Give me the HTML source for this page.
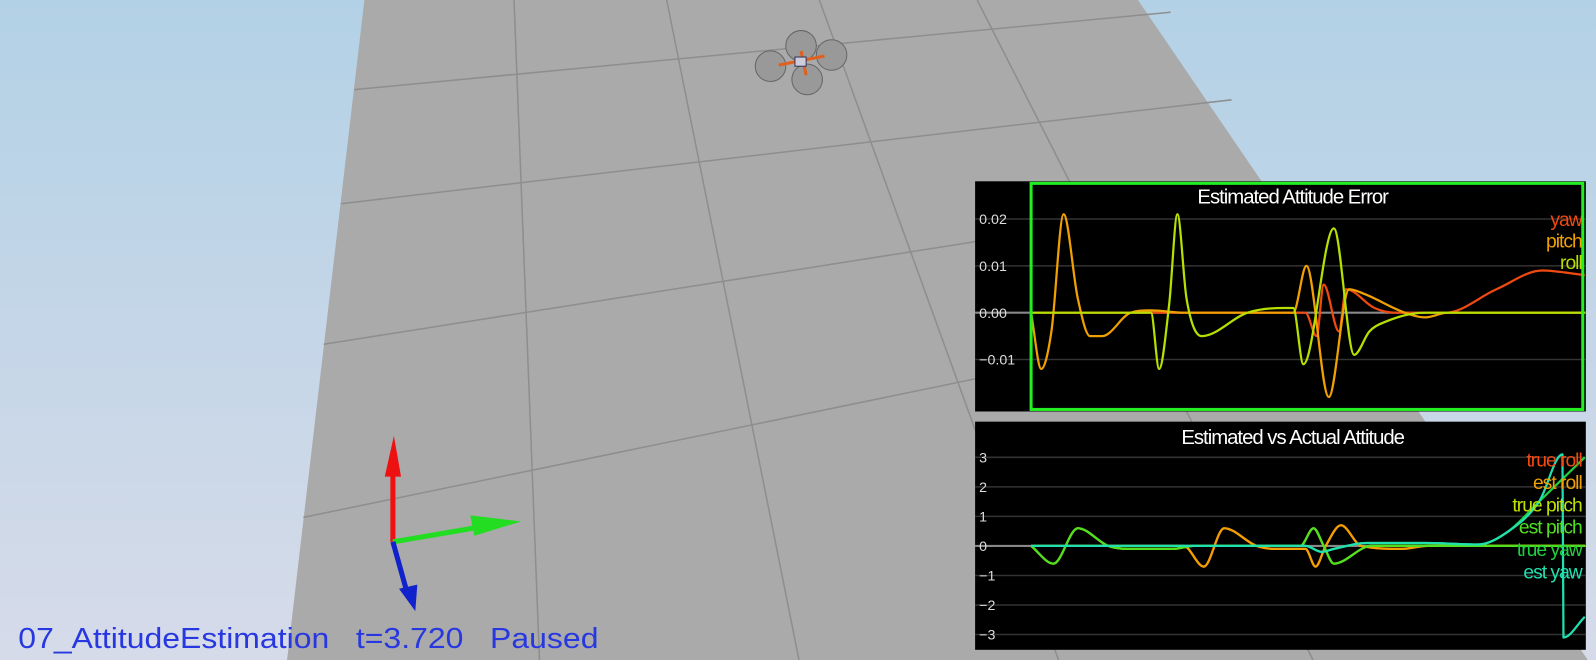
<!DOCTYPE html>
<html><head><meta charset="utf-8"><style>
body{margin:0;width:1596px;height:660px;overflow:hidden;font-family:"Liberation Sans",sans-serif}
svg{display:block}
</style></head><body>
<svg width="1596" height="660" viewBox="0 0 1568 648" preserveAspectRatio="none" xmlns="http://www.w3.org/2000/svg">
<defs><linearGradient id="sky" x1="0" y1="0" x2="0" y2="1"><stop offset="0" stop-color="#b3d1e6"/><stop offset="1" stop-color="#d6dbe9"/></linearGradient></defs>
<rect width="1568" height="648" fill="url(#sky)"/>
<polygon points="358,0 1118,0 1560,648 282,648" fill="#aaaaaa"/>
<g stroke="#8e8e8e" stroke-width="1.5">
<line x1="348" y1="88" x2="1150" y2="12"/>
<line x1="335" y1="200" x2="1210" y2="98"/>
<line x1="318" y1="338" x2="1290" y2="185"/>
<line x1="298" y1="508" x2="1380" y2="285"/>
<line x1="505" y1="0" x2="530" y2="648"/>
<line x1="655" y1="0" x2="785" y2="648"/>
<line x1="805" y1="0" x2="1040" y2="648"/>
<line x1="960" y1="0" x2="1290" y2="648"/>
</g>
<g>
<circle cx="787" cy="45" r="15" fill="#999" stroke="#666"/>
<circle cx="817" cy="54" r="15" fill="#999" stroke="#666"/>
<circle cx="757" cy="65" r="15" fill="#999" stroke="#666"/>
<circle cx="793" cy="78" r="15" fill="#999" stroke="#666"/>
<line x1="765" y1="64" x2="810" y2="55" stroke="#e06020" stroke-width="3"/>
<line x1="787" y1="50" x2="792" y2="74" stroke="#e06020" stroke-width="3"/>
<rect x="781" y="56" width="11" height="9" fill="#ccd" stroke="#335"/>
</g>
<g>
<line x1="386" y1="532" x2="386" y2="450" stroke="#ee1111" stroke-width="5"/>
<polygon points="378,468 394,468 387,428" fill="#ee1111"/>
<line x1="386" y1="532" x2="480" y2="516" stroke="#22dd22" stroke-width="5"/>
<polygon points="462,506 466,526 512,512" fill="#22dd22"/>
<line x1="386" y1="532" x2="400" y2="582" stroke="#1122cc" stroke-width="5"/>
<polygon points="392,578 410,574 408,600" fill="#1122cc"/>
</g>
<text x="18" y="636" font-size="28" fill="#2838e0" textLength="570" lengthAdjust="spacingAndGlyphs" style="white-space:pre">07_AttitudeEstimation   t=3.720   Paused</text>
<g id="c1"></g>
<g id="c2"></g>
</svg>
<script>
const NS="http://www.w3.org/2000/svg";
// Chart 1 data (time in units 0..545)
const err_ticks=[0.02,0.01,0.00,-0.01];
const err_tick_labels=["0.02","0.01","0.00","\u22120.01"];
const yaw_t=[0,270,281,288,303,310,338,358,408,458,503,545];
const yaw_v=[0,0,-0.005,0.006,-0.004,0.005,0.001,0,0,0.005,0.009,0.008];
const pitch_t=[0,10,20,32,46,58,70,98,118,150,258,271,293,313,328,368,388,410,545];
const pitch_v=[0,-0.012,-0.004,0.021,0.003,-0.005,-0.005,0,0.0005,0,0,0.01,-0.018,0.005,0.004,0,-0.001,0,0];
const roll_t=[0,118,126,136,144,153,168,213,248,258,268,298,318,333,348,388,545];
const roll_v=[0,0,-0.012,0.002,0.021,0.003,-0.005,0,0.001,0.001,-0.011,0.018,-0.009,-0.004,-0.002,0,0];
// Chart 2 data
const att_ticks=[3,2,1,0,-1,-2,-3];
const att_tick_labels=["3","2","1","0","\u22121","\u22122","\u22123"];
const roll2_t=[0,150,170,190,222,240,270,280,290,305,325,365,390,545];
const roll2_v=[0,0,-0.7,0.6,0,-0.1,-0.1,-0.7,0,0.7,0,-0.1,0,0];
const pitch2_t=[0,22,46,76,96,140,160,265,278,288,298,335,388,545];
const pitch2_v=[0,-0.6,0.6,0,-0.1,-0.1,0,0,0.6,0,-0.6,0,0,0];
const yaw2_t=[0,270,286,298,330,388,440,470,500,523,524,545];
const yaw2_v=[0,0,-0.2,-0.1,0.1,0.1,0.05,0.5,1.5,3.1,-3.1,-2.4];
const yawtrue_t=[0,270,286,298,330,388,440,470,500,545];
const yawtrue_v=[0,0,-0.2,-0.1,0.1,0.1,0.05,0.5,1.5,3.0];

function el(tag,attrs,parent){const e=document.createElementNS(NS,tag);for(const k in attrs)e.setAttribute(k,attrs[k]);parent.appendChild(e);return e;}
// monotone cubic (Fritsch-Carlson), straight line for near-vertical jumps
function smooth(pts){
  const n=pts.length,dx=[],m=[],tg=[];
  for(let i=0;i<n-1;i++){dx[i]=Math.max(pts[i+1][0]-pts[i][0],1e-6);m[i]=(pts[i+1][1]-pts[i][1])/dx[i];}
  tg[0]=m[0];tg[n-1]=m[n-2];
  for(let i=1;i<n-1;i++){tg[i]=(m[i-1]*m[i]<=0||dx[i]<2||dx[i-1]<2)?0:(m[i-1]+m[i])/2;}
  for(let i=0;i<n-1;i++){if(m[i]===0){tg[i]=0;tg[i+1]=0;continue;}
    const a=tg[i]/m[i],b=tg[i+1]/m[i],s=a*a+b*b;if(s>9){const t=3/Math.sqrt(s);tg[i]=t*a*m[i];tg[i+1]=t*b*m[i];}}
  let d='M'+pts[0][0]+','+pts[0][1];
  for(let i=0;i<n-1;i++){
    const p1=pts[i],p2=pts[i+1];
    if(dx[i]<2){d+=' L'+p2[0]+','+p2[1];continue;}
    const h=dx[i]/3;
    d+=' C'+(p1[0]+h)+','+(p1[1]+tg[i]*h)+' '+(p2[0]-h)+','+(p2[1]-tg[i+1]*h)+' '+p2[0]+','+p2[1];
  }
  return d;
}
function chart(g,cfg){
  el('rect',{x:cfg.px,y:cfg.py,width:cfg.pw,height:cfg.ph,fill:'#000'},g);
  const x=t=>cfg.x0+t/545*(cfg.x1-cfg.x0);
  const y=v=>cfg.y0-(v-cfg.v0)*cfg.k;
  cfg.ticks.forEach((v,i)=>{
    const l=el('line',{x1:cfg.px,x2:cfg.px+cfg.pw,y1:y(v),y2:y(v),stroke:v===0?'#888':'#333','stroke-width':v===0?2:1.5},g);
    
    
    const t=el('text',{x:cfg.px+4,y:y(v)+5,fill:'#ddd','font-size':14},g);
    
    
    t.textContent=cfg.labels[i];
  });
  cfg.series.forEach(s=>{
    const pts=s.t.map((t,i)=>[x(t),y(s.v[i])]);
    const p=el('path',{d:smooth(pts),fill:'none',stroke:s.c,'stroke-width':2.2,'stroke-linejoin':'round'},g);
    
    
  });
  const tt=el('text',{x:(cfg.px+cfg.pw/2)+12,y:cfg.py+22,fill:'#fff','font-size':20,'text-anchor':'middle',style:'letter-spacing:-1px'},g);
  
  
  tt.textContent=cfg.title;
  cfg.series.forEach((s,i)=>{
    const lt=el('text',{x:cfg.px+cfg.pw-4,y:cfg.ly+i*cfg.lh,fill:s.c,'font-size':19,'text-anchor':'end',style:'letter-spacing:-1px'},g);
    
    
    lt.textContent=s.n;
  });
  if(cfg.border){const b=el('rect',{x:cfg.x0,y:cfg.py+2,width:cfg.x1-cfg.x0-2,height:cfg.ph-4,fill:'none',stroke:'#22ee22','stroke-width':3},g);
    }
}
chart(document.getElementById('c1'),{px:958,py:178,pw:600,ph:226,x0:1013,x1:1557,y0:307,v0:0,k:4600,
  ticks:err_ticks,labels:err_tick_labels,title:'Estimated Attitude Error',ly:222,lh:21,border:true,
  series:[{n:'yaw',t:yaw_t,v:yaw_v,c:'#f04a10'},{n:'pitch',t:pitch_t,v:pitch_v,c:'#f0a000'},{n:'roll',t:roll_t,v:roll_v,c:'#b5e000'}]});
chart(document.getElementById('c2'),{px:958,py:414,pw:600,ph:224,x0:1013,x1:1557,y0:536,v0:0,k:29,
  ticks:att_ticks,labels:att_tick_labels,title:'Estimated vs Actual Attitude',ly:458,lh:22,border:false,
  series:[{n:'true roll',t:roll2_t,v:roll2_v,c:'#f04a10'},{n:'est roll',t:roll2_t,v:roll2_v,c:'#f0a000'},{n:'true pitch',t:pitch2_t,v:pitch2_v,c:'#c0e000'},{n:'est pitch',t:pitch2_t,v:pitch2_v,c:'#50e020'},{n:'true yaw',t:yawtrue_t,v:yawtrue_v,c:'#20d040'},{n:'est yaw',t:yaw2_t,v:yaw2_v,c:'#20e0b0'}]});
</script>
</body></html>
